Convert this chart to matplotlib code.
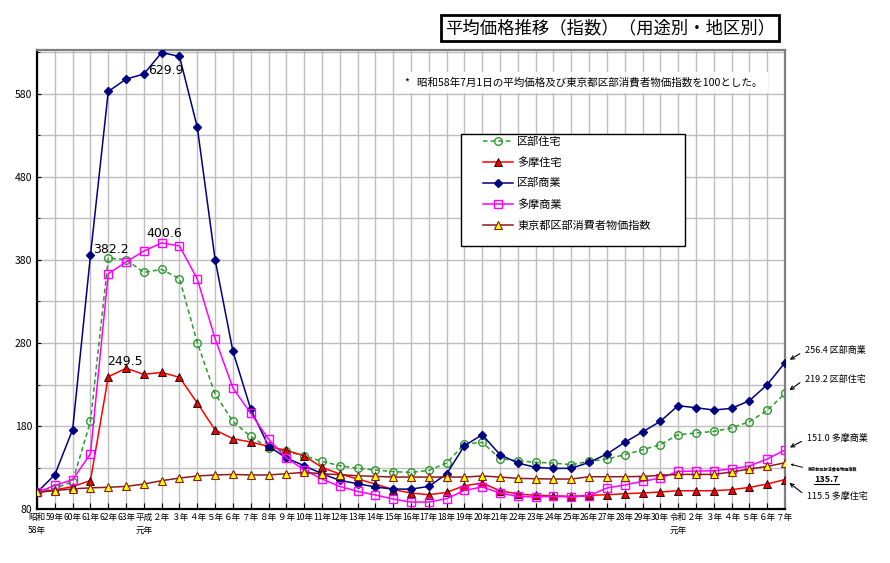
import numpy as np
import matplotlib
matplotlib.use("Agg")
import matplotlib.pyplot as plt
from matplotlib.patches import Rectangle
from matplotlib.lines import Line2D

plt.rcParams['font.family'] = ['Noto Sans CJK JP', 'DejaVu Sans']

# 昭和58年 .. 令和7年
years = ["昭和\n58年", "59年", "60年", "61年", "62年", "63年", "平成\n元年",
         "２年", "３年", "４年", "５年", "６年", "７年", "８年", "９年",
         "10年", "11年", "12年", "13年", "14年", "15年", "16年", "17年", "18年",
         "19年", "20年", "21年", "22年", "23年", "24年", "25年", "26年", "27年",
         "28年", "29年", "30年", "令和\n元年", "２年", "３年", "４年", "５年",
         "６年", "７年"]

ku_jutaku = [100, 105, 113, 185.5, 382.2, 380.4, 365, 368.7, 357.5, 280.4,
             218.5, 185.5, 167.5, 153.5, 149.4, 144.2, 137.4, 132.2, 129, 127,
             125, 124.1, 126.5, 135.4, 158.3, 160.3, 140.6, 138.2, 136.2, 135.4,
             133.4, 137.4, 140.2, 145.4, 151.4, 157.5, 169.5, 171.6, 173.5,
             177.6, 185.2, 198.8, 219.2]
tama_jutaku = [100, 103, 107, 114.3, 239.4, 249.5, 242.2, 244.6, 238.6, 207.7,
               175.2, 164.7, 160.7, 155.4, 150.6, 144.2, 130.1, 122.2, 116.1,
               110.1, 103.3, 99.3, 97.2, 100, 108.1, 111.3, 102, 98.2, 96.4, 96,
               95.2, 96.4, 97.2, 98.4, 99.3, 100.5, 102, 102, 102, 103.3, 106,
               110.1, 115.5]
ku_shogyo = [100, 121.3, 175.7, 385.5, 583, 598, 604, 629.9, 625.3, 539.8,
             380.4, 270, 200.3, 155.8, 141.4, 132.2, 122.5, 114.5, 110.5, 106.5,
             104, 104, 107.2, 122.2, 156.3, 169.5, 145.4, 135.4, 130.1, 129, 129,
             136.2, 146.2, 160.3, 172.8, 185.6, 204.5, 202, 199.3, 201.2, 210.5,
             229.8, 256.4]
tama_shogyo = [100, 108.4, 115.3, 146.5, 363.5, 377.6, 390.8, 400.6, 396.9,
               357.1, 285.2, 225.8, 195.2, 164.3, 141.4, 127.3, 116.1, 107.2,
               101.2, 96.9, 92, 88.4, 88.4, 92.4, 102.4, 106.5, 99.3, 95.2, 94.5,
               95.2, 94.5, 96, 105.3, 108.9, 113.3, 117.3, 125.3, 125.7, 126.1,
               128.2, 131.8, 140.2, 151.0]
cpi = [100, 102.2, 104.2, 105.5, 106.2, 107.2, 110.1, 114.1, 117.3, 119.8,
       121, 121.7, 121, 121, 122.5, 124.1, 122.5, 121.3, 120.1, 119.3, 118.5,
       118.5, 118.5, 118.5, 118.5, 119.8, 118.5, 116.9, 116.5, 116.1, 116.1,
       118.9, 118.9, 118.9, 119.3, 120.5, 121.7, 121.7, 121.7, 124.6, 128.2,
       131.3, 135.7]

fig = plt.figure(figsize=(8.9, 5.63), dpi=100)
ax = fig.add_axes([0.0416, 0.0959, 0.8404, 0.8153])
x = np.arange(len(years))

ax.plot(x, ku_jutaku, color="#2E9A2E", lw=1.1, ls=(0, (3, 2)), marker="o",
        ms=5.5, mfc="none", mec="#2E9A2E", mew=1.0, label="区部住宅", zorder=3)
ax.plot(x, tama_jutaku, color="#FF0000", lw=1.1, marker="^", ms=5.5,
        mfc="#EE0000", mec="black", mew=0.6, label="多摩住宅", zorder=3)
ax.plot(x, ku_shogyo, color="#000080", lw=1.1, marker="D", ms=4.2,
        mfc="#000080", mec="#000080", label="区部商業", zorder=3)
ax.plot(x, tama_shogyo, color="#FF00FF", lw=1.1, marker="s", ms=6,
        mfc="none", mec="#FF00FF", mew=1.0, label="多摩商業", zorder=3)
ax.plot(x, cpi, color="#8B1A1A", lw=1.1, marker="^", ms=5.5,
        mfc="#FFFF00", mec="#8B1A1A", mew=0.8, label="東京都区部消費者物価指数",
        zorder=3)

ax.set_xlim(0, len(years) - 1)
ax.set_ylim(80, 633)
ax.set_xticks(x)
ax.set_xticklabels(years, fontsize=6.2, linespacing=1.5)
ax.set_yticks(np.arange(80, 633, 100))
ax.set_yticks(np.arange(130, 633, 100), minor=True)
ax.tick_params(axis="y", labelsize=7.5, direction="in", length=3)
ax.tick_params(axis="y", which="minor", direction="in", length=2)
ax.tick_params(axis="x", direction="in", length=4, pad=3)
ax.grid(True, which="both", color="#BEBEBE", lw=1.0)
ax.set_axisbelow(True)
for s in ["left", "bottom"]:
    ax.spines[s].set_color("black")
    ax.spines[s].set_linewidth(1.6)
for s in ["top", "right"]:
    ax.spines[s].set_color("#7F7F7F")
    ax.spines[s].set_linewidth(1.6)

# peak labels
peaks = [(ku_shogyo, 7, (3, -13)), (tama_shogyo, 7, (2, 6.5)),
         (ku_jutaku, 4, (2, 6)), (tama_jutaku, 5, (-1, 5))]
for series, i, off in peaks:
    ax.annotate(f"{series[i]:.1f}", xy=(i, series[i]), xytext=off,
                textcoords="offset points", ha="center", va="center",
                fontsize=9, family="DejaVu Sans")

# right-hand end labels
last = len(years) - 1
ends = [(ku_shogyo, "区部商業", (14.4, 8.6)), (ku_jutaku, "区部住宅", (14.4, 10.4)),
        (tama_shogyo, "多摩商業", (15.6, 8.2)), (tama_jutaku, "多摩住宅", (15.8, -12.2))]
for series, name, off in ends:
    ax.annotate(f"{series[-1]:.1f} {name}", xy=(last, series[-1]), xytext=off,
                textcoords="offset points", ha="left", va="center", fontsize=6.5,
                annotation_clip=False,
                arrowprops=dict(arrowstyle="->", color="black", lw=0.8,
                                relpos=(0, 0.5), shrinkA=2, shrinkB=4))
ax.annotate("東京都区部消費者物価指数", xy=(last, cpi[-1]), xytext=(16.6, -4.3),
            textcoords="offset points", ha="left", va="center", fontsize=3,
            fontweight="bold", style="italic", annotation_clip=False,
            arrowprops=dict(arrowstyle="->", color="black", lw=0.7,
                            relpos=(0, 0.5), shrinkA=2, shrinkB=4))
cpi_txt = ax.annotate(f"{cpi[-1]:.1f}", xy=(last, cpi[-1]), xytext=(21, -12.3),
                      textcoords="offset points", ha="left", va="center",
                      fontsize=6.5, fontweight="bold", style="italic",
                      annotation_clip=False)

# legend with its own frame
ax.add_patch(Rectangle((0.567, 0.573), 0.299, 0.244, transform=ax.transAxes,
                       facecolor="white", edgecolor="black", lw=1.0, zorder=4))
ax.legend(loc="upper left", bbox_to_anchor=(0.596, 0.812), frameon=False,
          fontsize=8, labelspacing=0.95, handlelength=2.7, handletextpad=0.4,
          borderpad=0, borderaxespad=0).set_zorder(5)

# title and note
fig.text(0.6855, 0.950, "平均価格推移（指数）（用途別・地区別）", ha="center",
         va="center", fontsize=12.5,
         bbox=dict(boxstyle="square,pad=0.25", facecolor="white",
                   edgecolor="black", lw=2))
fig.text(0.455, 0.854, "*   昭和58年7月1日の平均価格及び東京都区部消費者物価指数を100とした。",
         ha="left", va="center", fontsize=7.6,
         bbox=dict(boxstyle="square,pad=0.5", facecolor="white", edgecolor="none"))

fig.canvas.draw()
bb = cpi_txt.get_window_extent()
(x0, y0), (x1, _) = fig.transFigure.inverted().transform([(bb.x0, bb.y0), (bb.x1, bb.y1)])
fig.add_artist(Line2D([x0, x1], [y0, y0], color="black", lw=0.8))

fig.savefig("out.png", dpi=100)
